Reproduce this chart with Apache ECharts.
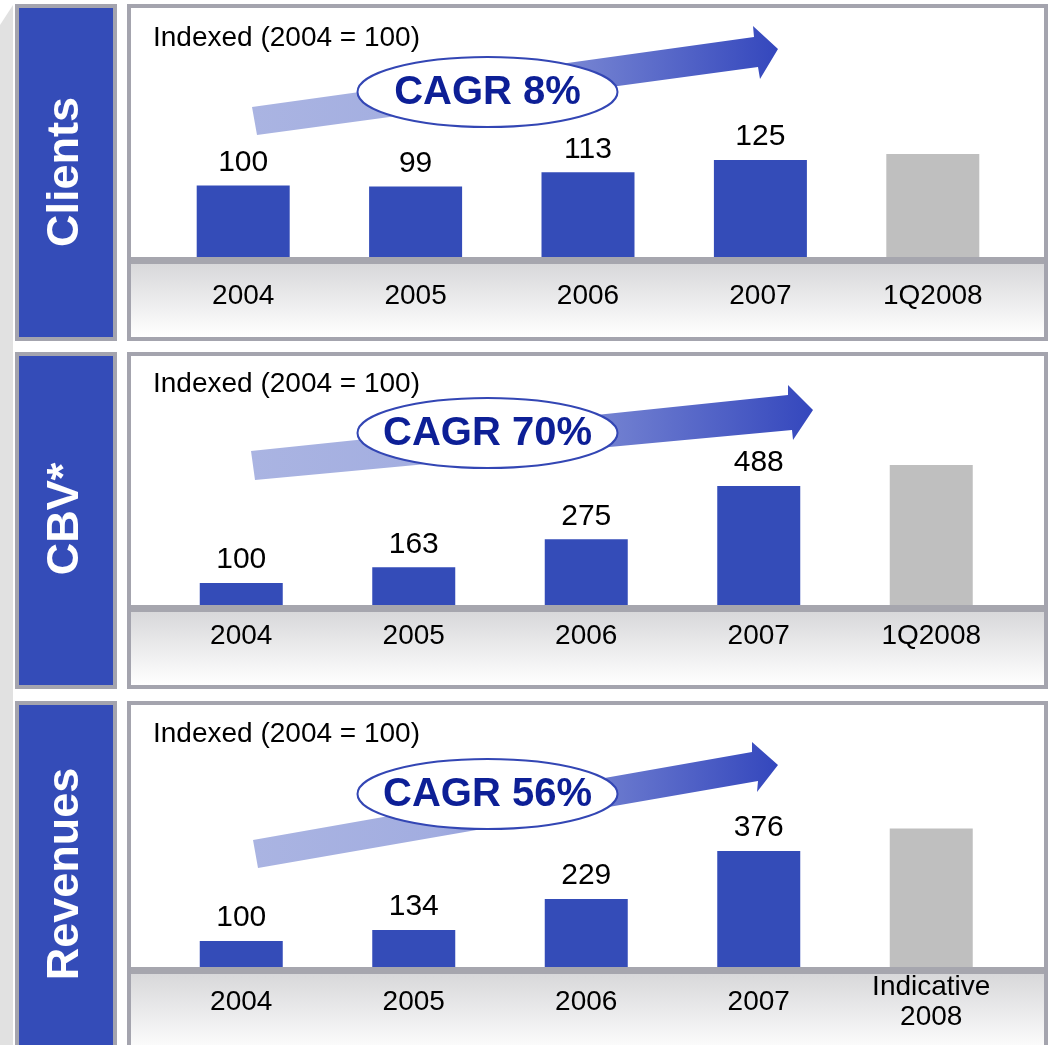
<!DOCTYPE html>
<html>
<head>
<meta charset="utf-8">
<script src="https://cdn.jsdelivr.net/npm/echarts@6/dist/echarts.min.js"></script>
<style>
html,body{margin:0;padding:0;background:#fff;}
#c{width:1049px;height:1045px;}
</style>
</head>
<body>
<div id="c"></div>
<script>
// ---- data ----
const categoriesA = ['2004', '2005', '2006', '2007', '1Q2008'];
const categoriesB = ['2004', '2005', '2006', '2007', 'Indicative\n2008'];
const clientsValues = [100, 99, 113, 125, 131];
const cbvValues = [100, 163, 275, 488, 572];
const revenueValues = [100, 134, 229, 376, 445];
const panelTitles = ['Clients', 'CBV*', 'Revenues'];
const cagrLabels = ['CAGR 8%', 'CAGR 70%', 'CAGR 56%'];
const subtitle = 'Indexed (2004 = 100)';

// ---- styles ----
const FONT = 'Arial, "Liberation Sans", Helvetica, sans-serif';
const BLUE = '#344cb8';
const GRAY_BAR = '#bfbfbf';
const BORDER = '#a4a4ae';

const chart = echarts.init(document.getElementById('c'), null, {renderer: 'canvas'});

const panels = [
  {cats: categoriesA, vals: clientsValues, top: 12, height: 245, left: 157, width: 862, min: 30, max: 270, barW: 93, margin: 39,
   boxY: 6, boxH: 333, lineY: 257, bandH: 73, titleY: 172, subY: 38, cagrY: 92,
   arrow: [[252,107],[754,37],[753,26],[778,49],[760,79],[758,67],[257,135]]},
  {cats: categoriesA, vals: cbvValues, top: 358, height: 247, left: 155, width: 862.5, min: 12, max: 1000, barW: 83, margin: 31,
   boxY: 354, boxH: 333, lineY: 605, bandH: 73, titleY: 519, subY: 384, cagrY: 433,
   arrow: [[251,451],[788,395],[788,385],[813,410],[793,440],[792,430],[255,480]]},
  {cats: categoriesB, vals: revenueValues, top: 713, height: 254, left: 155, width: 862.5, min: 20, max: 800, barW: 83, margin: 35,
   boxY: 703, boxH: 400, lineY: 967, bandH: 80, titleY: 874, subY: 734, cagrY: 794,
   arrow: [[253,840],[752,752],[752,742],[778,765],[757,792],[758,781],[258,868]]}
];

const graphics = [];
// left gray strip
graphics.push({type: 'polygon', z: -20, shape: {points: [[0,25],[13,5],[13,1045],[0,1045]]}, style: {fill: '#e1e1e1'}});

panels.forEach((p, i) => {
  // blue label box
  graphics.push({type: 'rect', z: -10, shape: {x: 17, y: p.boxY, width: 98, height: p.boxH},
    style: {fill: BLUE, stroke: BORDER, lineWidth: 4}});
  graphics.push({type: 'text', z: -5, x: 66, y: p.titleY, rotation: Math.PI / 2,
    style: {text: panelTitles[i], fill: '#ffffff', font: 'bold 45px ' + FONT, textAlign: 'center', textVerticalAlign: 'middle'}});
  // chart box
  graphics.push({type: 'rect', z: -10, shape: {x: 129, y: p.boxY, width: 917, height: p.boxH},
    style: {fill: '#ffffff', stroke: BORDER, lineWidth: 4}});
  // axis band gradient
  graphics.push({type: 'rect', z: -8, shape: {x: 131, y: p.lineY + 7, width: 913, height: p.bandH},
    style: {fill: new echarts.graphic.LinearGradient(0, 0, 0, 1, [{offset: 0, color: '#d8d8da'}, {offset: 1, color: '#ffffff'}])}});
  // axis thick line
  graphics.push({type: 'rect', z: -7, shape: {x: 131, y: p.lineY, width: 913, height: 7}, style: {fill: '#a6a6ae'}});
  // subtitle
  graphics.push({type: 'text', z: 20, x: 153, y: p.subY,
    style: {text: subtitle, fill: '#000', font: '28px ' + FONT, textAlign: 'left', textVerticalAlign: 'middle'}});
  // arrow
  graphics.push({type: 'polygon', z: 20, shape: {points: p.arrow},
    style: {fill: new echarts.graphic.LinearGradient(0, 0, 1, 0, [{offset: 0, color: '#aab4e2'}, {offset: 0.35, color: '#a2ade0'}, {offset: 1, color: '#3447bd'}])}});
  // ellipse
  graphics.push({type: 'ellipse', z: 25, shape: {cx: 487.5, cy: p.cagrY, rx: 130, ry: 35},
    style: {fill: '#ffffff', stroke: '#3346b4', lineWidth: 2}});
  graphics.push({type: 'text', z: 30, x: 487.5, y: p.cagrY + 1,
    style: {text: cagrLabels[i], fill: '#0d1f96', font: 'bold 40px ' + FONT, textAlign: 'center', textVerticalAlign: 'middle'}});
});

const option = {
  animation: false,
  backgroundColor: '#ffffff',
  grid: panels.map(p => ({left: p.left, top: p.top, width: p.width, height: p.height, containLabel: false})),
  xAxis: panels.map((p, i) => ({
    type: 'category', gridIndex: i, data: p.cats,
    axisLine: {show: false}, axisTick: {show: false}, splitLine: {show: false},
    axisLabel: {show: true, color: '#000', fontSize: 28, fontFamily: FONT, margin: p.margin,
      verticalAlign: 'middle', lineHeight: 30, interval: 0}
  })),
  yAxis: panels.map((p, i) => ({
    type: 'value', gridIndex: i, min: p.min, max: p.max, show: false, splitLine: {show: false}
  })),
  series: panels.map((p, i) => ({
    type: 'bar', xAxisIndex: i, yAxisIndex: i, data: p.vals, barWidth: p.barW, z: 2,
    itemStyle: {color: (d) => d.dataIndex === p.vals.length - 1 ? GRAY_BAR : BLUE},
    label: {show: true, position: 'top', distance: 8, color: '#000', fontSize: 30, fontFamily: FONT,
      formatter: (d) => d.dataIndex === p.vals.length - 1 ? '' : String(d.value)}
  })),
  graphic: {elements: graphics}
};
chart.setOption(option);
</script>
</body>
</html>
